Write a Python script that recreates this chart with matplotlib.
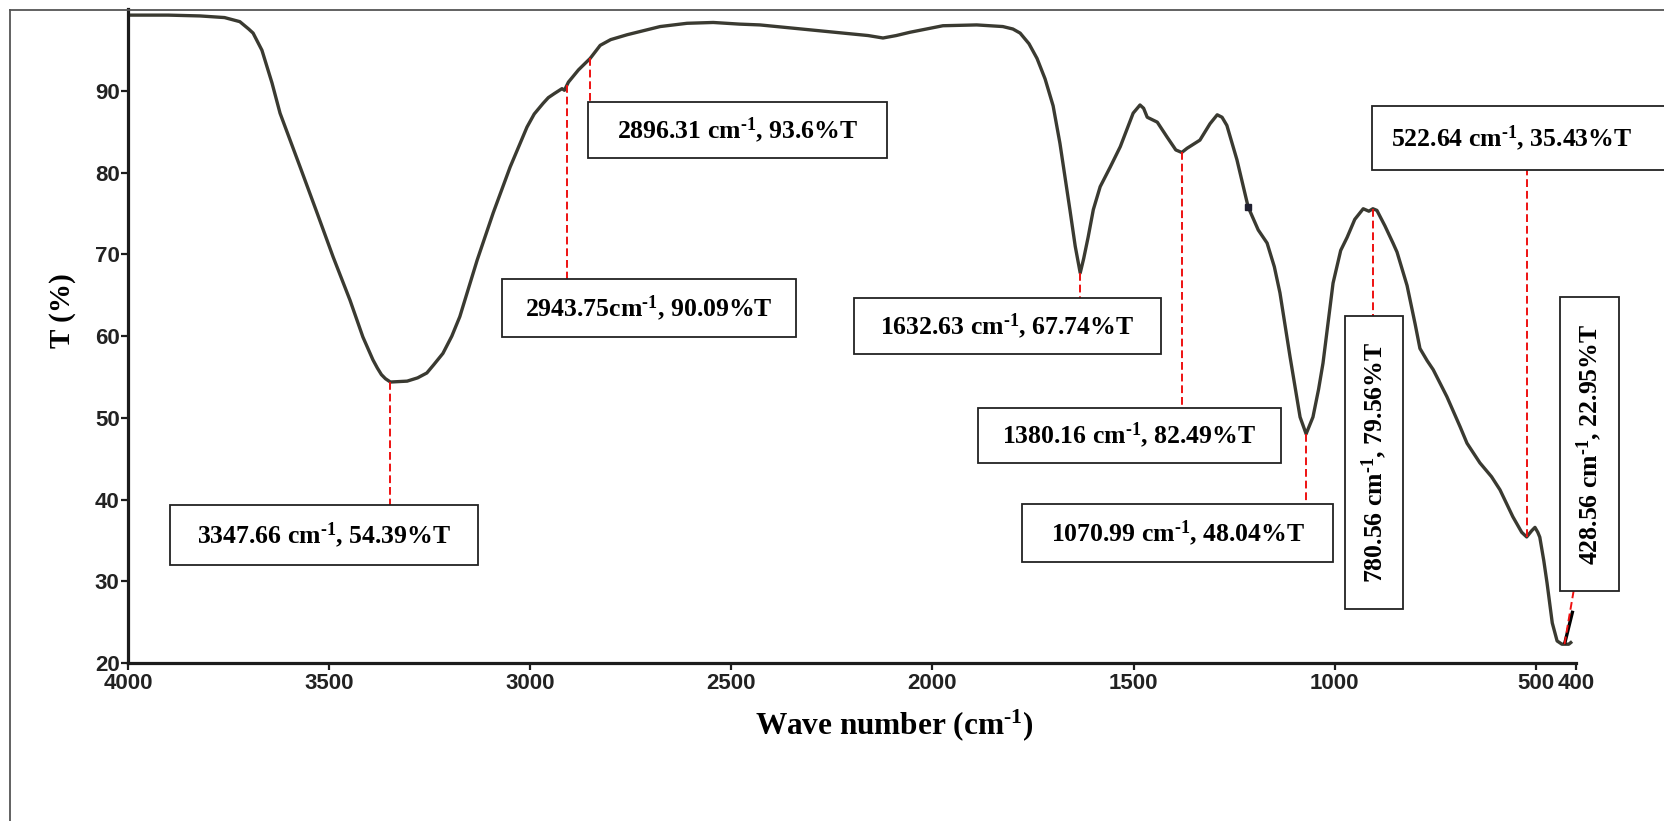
import numpy as np
import matplotlib
matplotlib.use("Agg")
import matplotlib.pyplot as plt
from matplotlib.patches import Rectangle
from matplotlib.lines import Line2D

# FTIR spectrum (wavenumber in cm-1, transmittance in %)
wavenumber = [4000, 3900, 3821, 3760, 3722, 3700, 3689, 3667, 3642, 3622,
              3572, 3530, 3490, 3448, 3416, 3391, 3380, 3370, 3360, 3347.66,
              3306, 3280, 3257, 3240, 3217, 3195, 3175, 3132, 3092, 3050,
              3008, 2990, 2968, 2955, 2940, 2921, 2915, 2905, 2880, 2851,
              2826, 2800, 2759, 2677, 2610, 2545, 2480, 2429, 2347, 2222,
              2160, 2123, 2090, 2056, 1974, 1890, 1825, 1800, 1782, 1760,
              1740, 1720, 1700, 1683, 1658, 1645, 1632.63, 1624, 1613, 1600,
              1583, 1558, 1533, 1501, 1484, 1475, 1466, 1441, 1417, 1395,
              1380.16, 1367, 1335, 1310, 1292, 1280, 1268, 1243, 1215, 1190,
              1168, 1150, 1136, 1111, 1086, 1070.99, 1054, 1040, 1029, 1004,
              985, 969, 950, 929, 915, 905, 895, 875, 855, 845,
              820, 800, 788, 770, 755, 721, 688, 671, 639, 610,
              589, 557, 535, 522.64, 510, 502, 495, 490, 480, 472,
              459, 447, 435, 428.56, 418, 413]
transmittance = [99.3, 99.3, 99.2, 99.0, 98.5, 97.6, 97.1, 95.0, 91.0, 87.3,
                 80.7, 75.1, 69.7, 64.4, 59.9, 57.1, 56.1, 55.3, 54.8, 54.39,
                 54.5, 54.9, 55.5, 56.5, 57.9, 60.0, 62.4, 69.3, 75.1, 80.7,
                 85.6, 87.2, 88.5, 89.2, 89.7, 90.3, 90.1, 91.1, 92.6, 94.0,
                 95.6, 96.3, 96.9, 97.9, 98.3, 98.4, 98.2, 98.1, 97.7, 97.1,
                 96.8, 96.5, 96.8, 97.2, 98.0, 98.1, 97.9, 97.6, 97.1, 95.8,
                 94.0, 91.5, 88.2, 83.6, 75.4, 71.0, 67.74, 69.5, 72.1, 75.5,
                 78.3, 80.7, 83.2, 87.3, 88.3, 87.9, 86.8, 86.2, 84.4, 82.8,
                 82.49, 83.0, 84.0, 86.0, 87.1, 86.8, 85.8, 81.6, 75.8, 73.0,
                 71.4, 68.5, 65.3, 57.5, 50.1, 48.04, 50.1, 53.5, 56.7, 66.5,
                 70.5, 72.1, 74.3, 75.6, 75.3, 75.6, 75.4, 73.5, 71.4, 70.3,
                 66.2, 61.5, 58.5, 57.0, 55.9, 52.6, 48.9, 46.9, 44.5, 42.8,
                 41.2, 37.9, 36.0, 35.43, 36.2, 36.6, 36.0, 35.4, 32.5, 29.8,
                 24.9, 22.7, 22.3, 22.3, 22.3, 22.5]

# peak labels
label_wn = ["3347.66", "2943.75", "2896.31", "1632.63", "1380.16",
            "1070.99", "780.56", "522.64", "428.56"]
label_t = ["54.39", "90.09", "93.6", "67.74", "82.49",
           "48.04", "79.56", "35.43", "22.95"]
# where each leader meets the curve
peak_wn = [3347.66, 2908, 2851, 1632.63, 1380.16, 1070.99, 905, 522.64, 428.56]

# label boxes: (left wn, right wn, bottom %T, top %T)
boxes = [(3896, 3130, 32.0, 39.3), (3070, 2339, 59.9, 67.0),
         (2856, 2113, 81.8, 88.7), (2195, 1432, 57.8, 64.7),
         (1887, 1133, 44.5, 51.2), (1777, 1004, 32.4, 39.5),
         (974, 830, 26.6, 62.5), (907, -300, 80.3, 88.2),
         (440, 293, 28.8, 64.8)]

plt.rcParams['mathtext.fontset'] = 'custom'
plt.rcParams['mathtext.rm'] = 'Liberation Serif:bold'
plt.rcParams['mathtext.it'] = 'Liberation Serif:bold'
plt.rcParams['mathtext.bf'] = 'Liberation Serif:bold'

fig = plt.figure(figsize=(16.64, 8.21), dpi=100)
ax = fig.add_axes([128 / 1664, 1 - 663 / 821, 1448 / 1664, 653.6 / 821])

ax.plot(wavenumber, transmittance, color='#3a3a31', lw=2.4, zorder=2,
        solid_joinstyle='round')
ax.plot([1215], [75.8], 's', color='#202030', ms=4, zorder=2)

ax.set_xlim(4000, 400)
ax.set_ylim(20, 100)
ax.set_xticks([4000, 3500, 3000, 2500, 2000, 1500, 1000, 500, 400])
ax.set_yticks([20, 30, 40, 50, 60, 70, 80, 90])
for s in ['top', 'right']:
    ax.spines[s].set_visible(False)
for s in ['left', 'bottom']:
    ax.spines[s].set_linewidth(2.3)
    ax.spines[s].set_color('#1c1c1c')
ax.tick_params(direction='out', length=5, width=1.6, color='#1c1c1c')
ax.tick_params(axis='y', pad=1)
ax.tick_params(axis='x', pad=2)
tick_font = ['Liberation Sans Narrow', 'Liberation Sans', 'DejaVu Sans']
for lab in ax.get_xticklabels() + ax.get_yticklabels():
    lab.set_family(tick_font)
    lab.set_fontweight('bold')
    lab.set_fontsize(16)
    lab.set_color('#222222')

sup = r'$^{\text{-1}}$'
serif = ['Liberation Serif', 'DejaVu Serif']
ax.set_xlabel('Wave number (cm' + sup + ')', family=serif, fontweight='bold',
              fontsize=22.5, labelpad=10)
ax.xaxis.label.set_x((894 - 128) / 1448)
fig.text(62 / 1664, 1 - 311 / 821, 'T (%)', family=serif, fontweight='bold',
         fontsize=21, rotation=90, ha='center', va='center')

wn_rev = np.array(wavenumber)[::-1]
t_rev = np.array(transmittance)[::-1]

for i, (w, t) in enumerate(zip(label_wn, label_t)):
    x0, x1, y0, y1 = boxes[i]
    gap = '' if i == 1 else ' '
    text = f"{w}{gap}cm{sup}, {t}%T"
    ax.add_patch(Rectangle((x1, y0), x0 - x1, y1 - y0, facecolor='white',
                           edgecolor='#222222', lw=1.3, zorder=5,
                           clip_on=False))
    vertical = (y1 - y0) > 20
    tx, ty = (x0 + x1) / 2, (y0 + y1) / 2
    if i == 7:
        tx = 561
    ax.text(tx, ty, text, family=serif, fontweight='bold', fontsize=18.5,
            rotation=90 if vertical else 0, ha='center', va='center',
            zorder=6, clip_on=False)

    px = peak_wn[i]
    curve_t = np.interp(px, wn_rev, t_rev)
    if i == 8:
        ax.plot([px, 408], [curve_t, 26.4], color='black', lw=2.4, zorder=4,
                solid_capstyle='butt')
        ax.plot([px, 406], [curve_t, y0], color='#ee1111', lw=1.4,
                ls=(0, (4, 2)), zorder=4)
        continue
    end_t = y1 if y1 < curve_t else y0
    ax.plot([px, px], [curve_t, end_t], color='#ee1111', lw=1.4,
            ls=(0, (4, 2)), zorder=3)

# outer frame
fig.add_artist(Line2D([10 / 1664, 10 / 1664], [0, 1 - 10 / 821],
                      color='#555555', lw=1.3))
fig.add_artist(Line2D([10 / 1664, 1], [1 - 10 / 821, 1 - 10 / 821],
                      color='#555555', lw=1.3))

fig.savefig('out.png', dpi=100)
